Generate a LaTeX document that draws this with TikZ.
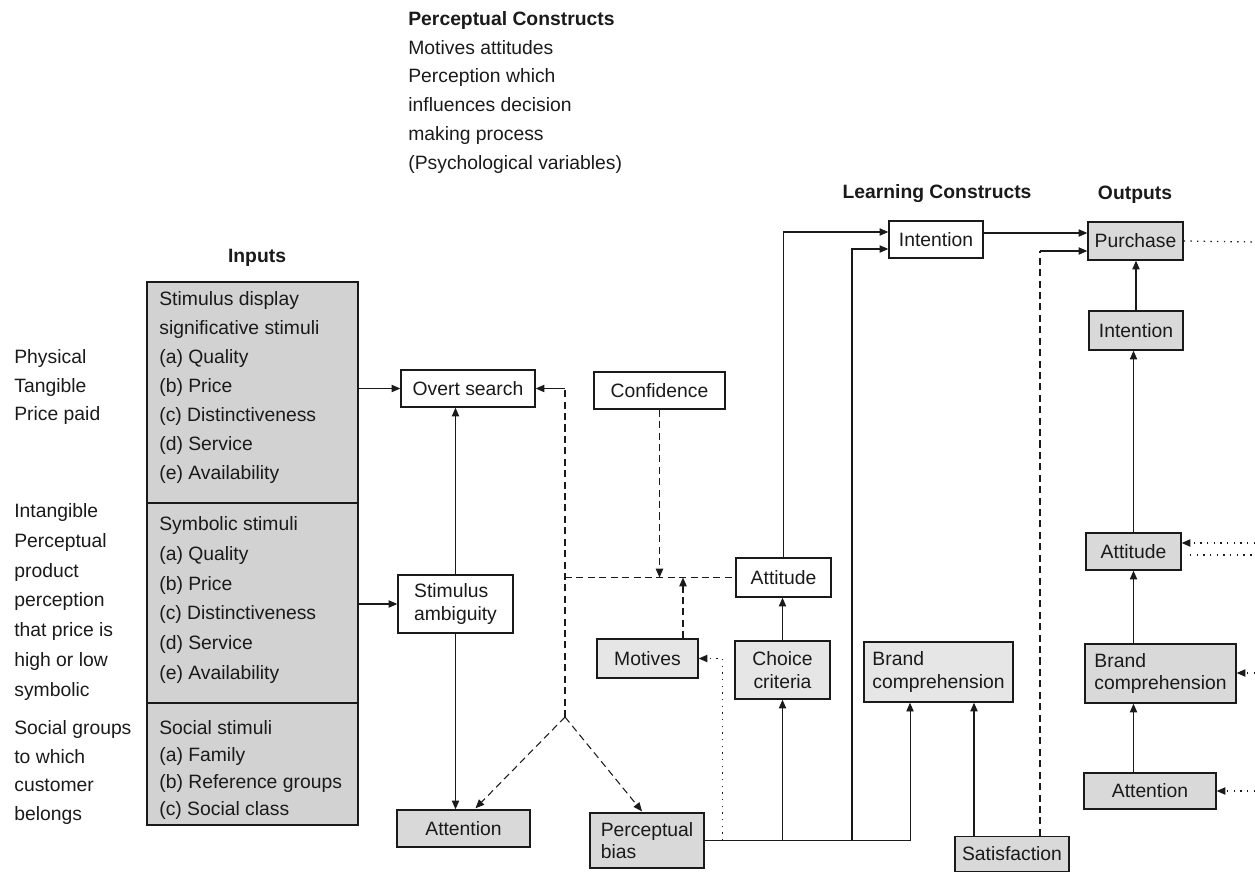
\documentclass[tikz,border=0pt]{standalone}
\usepackage{fontspec}
\setmainfont{Liberation Sans}
\usetikzlibrary{arrows.meta,calc}
\definecolor{boxgray}{HTML}{D9D9D9}
\definecolor{lgray}{HTML}{E6E6E6}
\definecolor{ingray}{HTML}{D2D2D2}
\definecolor{ink}{HTML}{1A1A1A}
\begin{document}
\begin{tikzpicture}[x=0.02cm,y=-0.02cm,
  every node/.style={text=ink},
  box/.style={draw=ink, line width=0.8pt, inner sep=0pt, align=center,
    font=\fontsize{11}{12.8}\selectfont},
  wbox/.style={box, fill=white},
  gbox/.style={box, fill=boxgray},
  lbox/.style={box, fill=lgray},
  txt/.style={inner sep=0pt, anchor=north west, align=left},
  head/.style={inner sep=0pt, font=\fontsize{11}{13}\selectfont\bfseries},
  arr/.style={draw=ink, line width=0.6pt, -{Triangle[length=5pt,width=4.2pt]}},
  plain/.style={draw=ink, line width=0.6pt},
  dsh/.style={dash pattern=on 4pt off 2.5pt},
  dots/.style={dash pattern=on 0.8pt off 3pt, line width=0.7pt}]
\useasboundingbox (0,0) rectangle (1255,873);

% ---- headings and free text ----
\node[txt, font=\fontsize{11}{16.4}\selectfont] (pc) at (408,11)
  {\textbf{Perceptual Constructs}\\Motives attitudes\\Perception which\\influences decision\\making process\\(Psychological variables)};
\node[head] (hlc) at (937,194) {Learning Constructs};
\node[head] (hout) at (1135,195) {Outputs};
\node[head] (hin) at (257,258) {Inputs};

\node[txt, font=\fontsize{11}{16.4}\selectfont] (lphys) at (14,349) {Physical\\Tangible\\Price paid};
\node[txt, font=\fontsize{11}{17}\selectfont] (lint) at (14,503) {Intangible\\Perceptual\\product\\perception\\that price is\\high or low\\symbolic};
\node[txt, font=\fontsize{11}{16.3}\selectfont] (lsoc) at (14,720) {Social groups\\to which\\customer\\belongs};

% ---- inputs block ----
\node[draw=ink, line width=0.8pt, fill=ingray, minimum width=4.22cm, minimum height=4.42cm, inner sep=0pt] (in1) at (252.5,392.5) {};
\node[draw=ink, line width=0.8pt, fill=ingray, minimum width=4.22cm, minimum height=4.0cm, inner sep=0pt] (in2) at (252.5,603) {};
\node[draw=ink, line width=0.8pt, fill=ingray, minimum width=4.22cm, minimum height=2.44cm, inner sep=0pt] (in3) at (252.5,764) {};
\node[txt, font=\fontsize{11}{16.5}\selectfont] (t1) at (159,291)
  {Stimulus display\\significative stimuli\\(a) Quality\\(b) Price\\(c) Distinctiveness\\(d) Service\\(e) Availability};
\node[txt, font=\fontsize{11}{17}\selectfont] (t2) at (159,516)
  {Symbolic stimuli\\(a) Quality\\(b) Price\\(c) Distinctiveness\\(d) Service\\(e) Availability};
\node[txt, font=\fontsize{11}{15.3}\selectfont] (t3) at (159,720)
  {Social stimuli\\(a) Family\\(b) Reference groups\\(c) Social class};

% ---- boxes ----
\node[wbox, minimum width=2.68cm, minimum height=0.74cm] (overt) at (468,388.5) {Overt search};
\node[wbox, minimum width=2.62cm, minimum height=0.74cm] (conf) at (659.5,390.5) {Confidence};
\node[wbox, minimum width=2.3cm, minimum height=1.16cm, align=left] (stamb) at (455.5,604) {Stimulus\\ambiguity};
\node[gbox, minimum width=2.66cm, minimum height=0.74cm] (attA) at (463.5,828.5) {Attention};
\node[lbox, minimum width=2.02cm, minimum height=0.78cm] (motives) at (647.5,658.5) {Motives};
\node[gbox, minimum width=2.28cm, minimum height=1.1cm, align=left] (pbias) at (647,840.5) {Perceptual\\bias};
\node[wbox, minimum width=1.9cm, minimum height=0.78cm] (attL) at (783.5,577.5) {Attitude};
\node[lbox, minimum width=1.9cm, minimum height=1.16cm] (choice) at (782.5,670) {Choice\\criteria};
\node[lbox, minimum width=2.98cm, minimum height=1.2cm, align=left] (brandL) at (938.5,672) {Brand\\comprehension};
\node[gbox, minimum width=2.28cm, minimum height=0.7cm] (satis) at (1012,854) {Satisfaction};
\node[wbox, minimum width=1.88cm, minimum height=0.74cm] (intL) at (936,239.5) {Intention};
\node[gbox, minimum width=1.9cm, minimum height=0.76cm] (purchase) at (1135.5,241) {Purchase};
\node[gbox, minimum width=1.88cm, minimum height=0.78cm] (intO) at (1136,330.5) {Intention};
\node[gbox, minimum width=1.9cm, minimum height=0.74cm] (attO) at (1133.5,551.5) {Attitude};
\node[gbox, minimum width=3.02cm, minimum height=1.18cm, align=left] (brandO) at (1160.5,673.5) {Brand\\comprehension};
\node[gbox, minimum width=2.64cm, minimum height=0.72cm] (attnO) at (1150,791) {Attention};

% ---- helper coordinates ----
\coordinate (J) at (565,717);
\coordinate (mx) at ($(motives.east)+(24,0)$);
\coordinate (bx) at ($(brandL.south)+(-28.5,0)$);
\coordinate (bus2) at (852,843);
\coordinate (iA) at ($(intL.west)+(0,-7.5)$);
\coordinate (iB) at ($(intL.west)+(0,9.5)$);
\coordinate (pA) at ($(purchase.west)+(0,-8)$);
\coordinate (pB) at ($(purchase.west)+(0,10)$);
\coordinate (sD) at ($(satis.north)+(28,0)$);
\coordinate (sS) at ($(satis.north)+(-38,0)$);
\coordinate (mot) at ($(motives.north)+(35.5,0)$);
\coordinate (eP) at (1255,242);
\coordinate (eA1) at (1255,543);
\coordinate (eA2a) at (1190,555);
\coordinate (eA2b) at (1255,555);
\coordinate (eB) at (1255,673);
\coordinate (eT) at (1255,791);

% ---- solid connectors ----
\draw[arr] (in1.east |- overt.west) -- (overt.west);
\draw[arr] (in2.east |- stamb.west) -- (stamb.west);
\draw[arr] (stamb.north) -- (stamb.north |- overt.south);
\draw[arr] (stamb.south) -- (stamb.south |- attA.north);
\draw[arr] (choice.north) -- (choice.north |- attL.south);
\draw[arr] (choice.south |- pbias.east) -- (choice.south);
\draw[arr] (attL.north) |- (iA);
\draw[arr] (bus2 |- pbias.east) |- (iB);
\draw[plain, line width=0.5pt] (pbias.east) -- (pbias.east -| bx);
\draw[arr, line width=0.5pt] (pbias.east -| bx) -- (bx);
\draw[arr] (sS) -- (sS |- brandL.south);
\draw[arr] ($(intL.east)+(0,-6.5)$) -- (pA);
\draw[arr] (intO.north) -- (intO.north |- purchase.south);
\draw[arr] (attO.north) -- (attO.north |- intO.south);
\draw[arr] (attO.south |- brandO.north) -- (attO.south);
\draw[arr] (attO.south |- attnO.north) -- (attO.south |- brandO.south);

% ---- dashed connectors ----
\draw[plain, dsh] (J) -- (J |- overt.east);
\draw[arr] (J |- overt.east) -- (overt.east);
\draw[arr, dsh] (J) -- ($(attA.north)+(12,-1)$);
\draw[arr, dsh] (J) -- ($(pbias.north)+(-5,-1)$);
\draw[plain, dsh] (J |- attL.west) -- (attL.west);
\draw[arr, dsh] (conf.south) -- (conf.south |- attL.west);
\draw[arr, dsh] (mot) -- (mot |- attL.west);
\draw[plain, dsh] (sD) -- (sD |- pB);
\draw[arr] (sD |- pB) -- (pB);

% ---- dotted connectors ----
\draw[arr, dots] (mx |- pbias.east) -- (mx) -- (motives.east);
\draw[plain, dots] (purchase.east) -- (eP);
\draw[arr, dots] (eA1) -- (eA1 -| attO.east);
\draw[plain, dots] (eA2a) -- (eA2b);
\draw[arr, dots] (eB) -- (eB -| brandO.east);
\draw[arr, dots] (eT) -- (eT -| attnO.east);
\end{tikzpicture}
\end{document}
